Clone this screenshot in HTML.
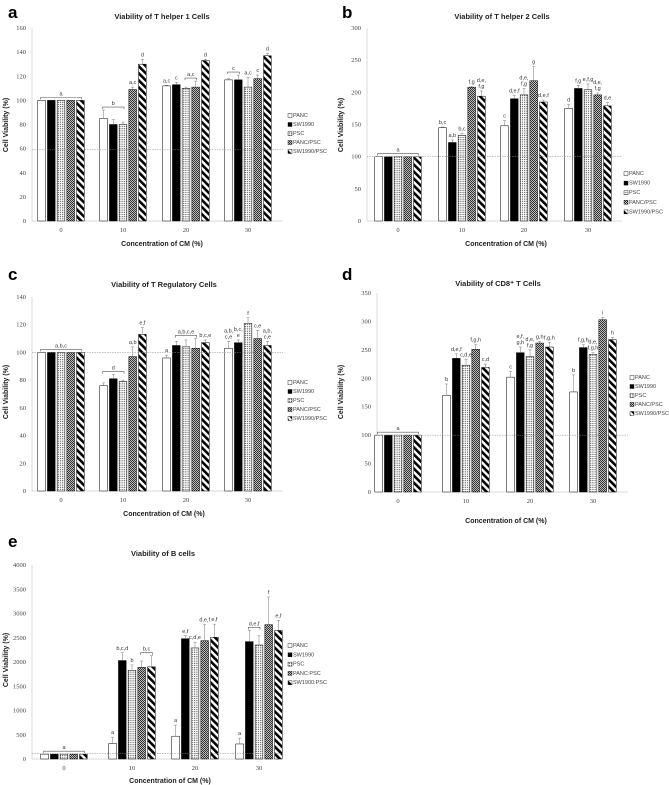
<!DOCTYPE html>
<html><head><meta charset="utf-8"><style>
html,body{margin:0;padding:0;background:#fff}
svg{display:block;font-family:"Liberation Sans",sans-serif}
.tk{font-family:"Liberation Serif",serif;font-size:6.5px;fill:#444}
.an{font-family:"Liberation Sans",sans-serif;font-size:5.5px;fill:#333}
.lg{font-size:5.5px;fill:#444}
</style></head><body>
<svg id="fig" width="669" height="785" viewBox="0 0 669 785">
<defs>
<pattern id="pDot" width="2.2" height="2.2" patternUnits="userSpaceOnUse"><rect width="2.2" height="2.2" fill="#fff"/><circle cx="1.1" cy="1.1" r="0.6" fill="#333"/></pattern>
<pattern id="pChk" width="2" height="2" patternUnits="userSpaceOnUse"><rect width="2" height="2" fill="#bbb"/><rect width="1" height="1" fill="#333"/><rect x="1" y="1" width="1" height="1" fill="#333"/></pattern>
<pattern id="pStr" width="5" height="5" patternUnits="userSpaceOnUse" patternTransform="rotate(-45)"><rect width="5" height="5" fill="#fff"/><rect width="2.6" height="5" fill="#000"/></pattern>
</defs>
</svg>
<script>
// ---- data ----
const categories = ["0","10","20","30"];
const seriesNames = ["PANC","SW1990","PSC","PANC/PSC","SW1990/PSC"];
const seriesNamesE = ["PANC","SW1990","PSC","PANC:PSC","SW1900:PSC"];
const th1Values = [[100,100,100,100,100],[85,80,80,109,130],[112,113,110,111,133],[117,117,111,118,137]];
const th1Errors = [[0,0,0,0,0],[7,4,2,2,4],[0.5,2,1,5,1],[1,4,8,3,2]];
const th1Ticks = [0,20,40,60,80,100,120,140,160];
const th2Values = [[100,100,100,100,100],[145,122,133,208,194],[148,190,196,218,185],[175,206,204,196,179]];
const th2Errors = [[0,0,0,0,0],[1,4,3,1,8],[8,5,10,22,3],[6,5,9,3,5]];
const th2Ticks = [0,50,100,150,200,250,300];
const tregValues = [[100,100,100,100,100],[76,81,79,97,113],[96,105,104,103,107],[103,107,121,110,105]];
const tregErrors = [[0,0,0,0,0],[2,3,1,7,5],[2,3,5,7,2],[5,2,4,6,3]];
const tregTicks = [0,20,40,60,80,100,120,140];
const cd8Values = [[100,100,100,100,100],[170,235,223,251,219],[202,245,238,262,255],[176,254,242,303,268]];
const cd8Errors = [[0,0,0,0,0],[20,8,10,8,6],[10,10,12,3,8],[30,5,3,4,4]];
const cd8Ticks = [0,50,100,150,200,250,300,350];
const bValues = [[100,100,100,100,100],[320,2030,1830,1890,1900],[470,2480,2290,2440,2510],[310,2420,2350,2770,2650]];
const bErrors = [[0,0,0,0,0],[130,160,110,130,230],[230,60,120,330,270],[120,230,190,570,210]];
const bTicks = [0,500,1000,1500,2000,2500,3000,3500,4000];
// annotations: [group, fromBar, toBar, text]
const th1Ann = [[0,0,4,"a"],[1,0,2,"b"],[1,3,3,"a,c"],[1,4,4,"d"],[2,0,0,"a,c"],[2,1,1,"c"],[2,2,3,"a,c"],[2,4,4,"d"],[3,0,1,"c"],[3,2,2,"a,c"],[3,3,3,"c"],[3,4,4,"d"]];
const th2Ann = [[0,0,4,"a"],[1,0,0,"b,c"],[1,1,1,"a,b"],[1,2,2,"b,c"],[1,3,3,"f,g"],[1,4,4,"d,e,|f,g"],[2,0,0,"c"],[2,1,1,"d,e,f"],[2,2,2,"d,e,|f,g"],[2,3,3,"g"],[2,4,4,"d,e,f"],[3,0,0,"d"],[3,1,1,"f,g"],[3,2,2,"e,f,g"],[3,3,3,"d,e,|f,g"],[3,4,4,"d,e"]];
const tregAnn = [[0,0,4,"a,b,c"],[1,0,2,"d"],[1,3,3,"a,b"],[1,4,4,"e,f"],[2,0,0,"a"],[2,1,3,"a,b,c,e"],[2,4,4,"b,c,e"],[3,0,0,"a,b,|c,e"],[3,1,1,"b,c,|e"],[3,2,2,"f"],[3,3,3,"c,e"],[3,4,4,"a,b,|c,e"]];
const cd8Ann = [[0,0,4,"a"],[1,0,0,"b"],[1,1,1,"d,e,f"],[1,2,2,"c,d,e"],[1,3,3,"f,g,h"],[1,4,4,"c,d"],[2,0,0,"c"],[2,1,1,"e,f,|g,h"],[2,2,2,"d,e,|f,g"],[2,3,3,"g,h"],[2,4,4,"f,g,h"],[3,0,0,"b"],[3,1,1,"f,g,h"],[3,2,2,"d,e,|f,g,h"],[3,3,3,"i"],[3,4,4,"h"]];
const bAnn = [[0,0,4,"a"],[1,0,0,"a"],[1,1,1,"b,c,d"],[1,2,2,"b"],[1,3,4,"b,c"],[2,0,0,"a"],[2,1,1,"e,f"],[2,2,2,"c,d,e"],[2,3,3,"d,e,f"],[2,4,4,"e,f"],[3,0,0,"a"],[3,1,2,"d,e,f"],[3,3,3,"f"],[3,4,4,"e,f"]];

const svg=document.getElementById('fig');
const NS='http://www.w3.org/2000/svg';
function mk(tag,attrs,parent,txt){const e=document.createElementNS(NS,tag);for(const k in attrs)e.setAttribute(k,attrs[k]);if(txt!==undefined)e.textContent=txt;(parent||svg).appendChild(e);return e;}
const fills=["#fff","#000","url(#pDot)","url(#pChk)","url(#pStr)"];

function panel(o){
  const g=mk('g',{});
  
  
  const max=o.ticks[o.ticks.length-1];
  const y=v=>o.y0-(v/max)*(o.y0-o.yTop);
  const barW=7.7,pitch=9.7;
  const bx=(gi,si)=>o.gx[gi]+(si-2)*pitch-barW/2;
  const L=mk('text',{x:o.lx,y:o.ly,'font-size':17,'font-weight':'bold',fill:'#000'},g,o.letter);
  
  
  const T=mk('text',{x:o.tx,y:o.ty,'font-size':7.5,'font-weight':'bold','text-anchor':'middle',fill:'#222'},g,o.title);
  
  
  const ax=mk('line',{x1:o.x0,x2:o.x0,y1:o.yTop,y2:o.y0,stroke:'#ccc','stroke-width':0.7},g);
  
  
  const bx2=mk('line',{x1:o.x0,x2:o.x1,y1:o.y0,y2:o.y0,stroke:'#ccc','stroke-width':0.7},g);
  
  
  o.ticks.forEach(t=>{const e=mk('text',{x:o.x0-6,y:y(t)+2,'text-anchor':'end',class:'tk'},g,t);
    
    });
  categories.forEach((c,i)=>{const e=mk('text',{x:o.gx[i],y:o.y0+11,'text-anchor':'middle',class:'tk','font-size':7.5},g,c);
    
    });
  const xt=mk('text',{x:o.xtx,y:o.xty,'text-anchor':'middle','font-size':7,'font-weight':'bold',fill:'#222'},g,'Concentration of CM (%)');
  
  
  const yt=mk('text',{x:0,y:0,'text-anchor':'middle','font-size':7,'font-weight':'bold',fill:'#222',transform:`translate(${o.ytx},${o.yty}) rotate(-90)`},g,'Cell Viability (%)');
  
  
  o.vals.forEach((row,gi)=>row.forEach((v,si)=>{
    const r=mk('rect',{x:bx(gi,si),y:y(v),width:barW,height:o.y0-y(v),fill:fills[si],stroke:'#000','stroke-width':0.5},g);
    
    
    const er=o.errs[gi][si];
    if(er>0){const cx=bx(gi,si)+barW/2;
      const e=mk('path',{d:`M${cx},${y(v)}V${y(v+er)}M${cx-1.5},${y(v+er)}H${cx+1.5}`,stroke:'#777','stroke-width':0.5,fill:'none'},g);
      
      }
  }));
  const d=mk('line',{x1:o.x0,x2:o.x1,y1:y(o.ref),y2:y(o.ref),stroke:'#888','stroke-width':0.5,'stroke-dasharray':'1.5,1'},g);
  
  
  o.ann.forEach(([gi,a,b,txt])=>{
    let top=0;for(let s=a;s<=b;s++)top=Math.max(top,o.vals[gi][s]+o.errs[gi][s]);
    let yy=y(top)-3;
    const lines=txt.split('|');
    if(a!==b){const xa=bx(gi,a)+barW/2-1,xb=bx(gi,b)+barW/2+1;
      const br=mk('path',{d:`M${xa},${yy+2}V${yy}H${xb}V${yy+2}`,stroke:'#555','stroke-width':0.6,fill:'none'},g);
      
      
      yy-=2;}
    const cx=(bx(gi,a)+bx(gi,b))/2+barW/2;
    lines.forEach((ln,k)=>{const t=mk('text',{x:cx,y:yy-(lines.length-1-k)*6,'text-anchor':'middle',class:'an'},g,ln);
      
      });
  });
  o.legNames.forEach((n,i)=>{const ly=o.legY+i*o.legS;
    const r=mk('rect',{x:o.legX,y:ly-3.5,width:4,height:4,fill:fills[i],stroke:'#000','stroke-width':0.4},g);
    
    
    const t=mk('text',{x:o.legX+5,y:ly,class:'lg'},g,n);
    
    });
}
panel({name:'chart-th1',letter:'a',lx:8,ly:18,title:'Viability of T helper 1 Cells',tx:162,ty:19,x0:32,x1:283,y0:221,yTop:28,gx:[61,123,186,248],ticks:th1Ticks,vals:th1Values,errs:th1Errors,ann:th1Ann,ref:59,xtx:162,xty:246,ytx:8,yty:125,legNames:seriesNames,legX:288,legY:117,legS:9});
panel({name:'chart-th2',letter:'b',lx:342,ly:18,title:'Viability of T helper 2 Cells',tx:502,ty:19,x0:367,x1:622,y0:221,yTop:28,gx:[398,462,524,588],ticks:th2Ticks,vals:th2Values,errs:th2Errors,ann:th2Ann,ref:100,xtx:506,xty:246,ytx:343,yty:125,legNames:seriesNames,legX:624,legY:175,legS:9.6});
panel({name:'chart-treg',letter:'c',lx:8,ly:280,title:'Viability of T Regulatory Cells',tx:164,ty:287,x0:32,x1:283,y0:491,yTop:297,gx:[61,123,186,248],ticks:tregTicks,vals:tregValues,errs:tregErrors,ann:tregAnn,ref:100,xtx:164,xty:516,ytx:8,yty:392,legNames:seriesNames,legX:288,legY:384,legS:9});
panel({name:'chart-cd8',letter:'d',lx:342,ly:280,title:'Viability of CD8\u207A T Cells',tx:498,ty:286,x0:377,x1:628,y0:492,yTop:293,gx:[398,466,530,593],ticks:cd8Ticks,vals:cd8Values,errs:cd8Errors,ann:cd8Ann,ref:100,xtx:506,xty:523,ytx:343,yty:392,legNames:seriesNames,legX:630,legY:379,legS:9});
panel({name:'chart-bcells',letter:'e',lx:8,ly:547,title:'Viability of B cells',tx:163,ty:556,x0:32,x1:282,y0:759,yTop:565,gx:[64,132,195,259],ticks:bTicks,vals:bValues,errs:bErrors,ann:bAnn,ref:110,xtx:170,xty:783,ytx:8,yty:660,legNames:seriesNamesE,legX:288,legY:647,legS:9.3});
</script>
</body></html>
